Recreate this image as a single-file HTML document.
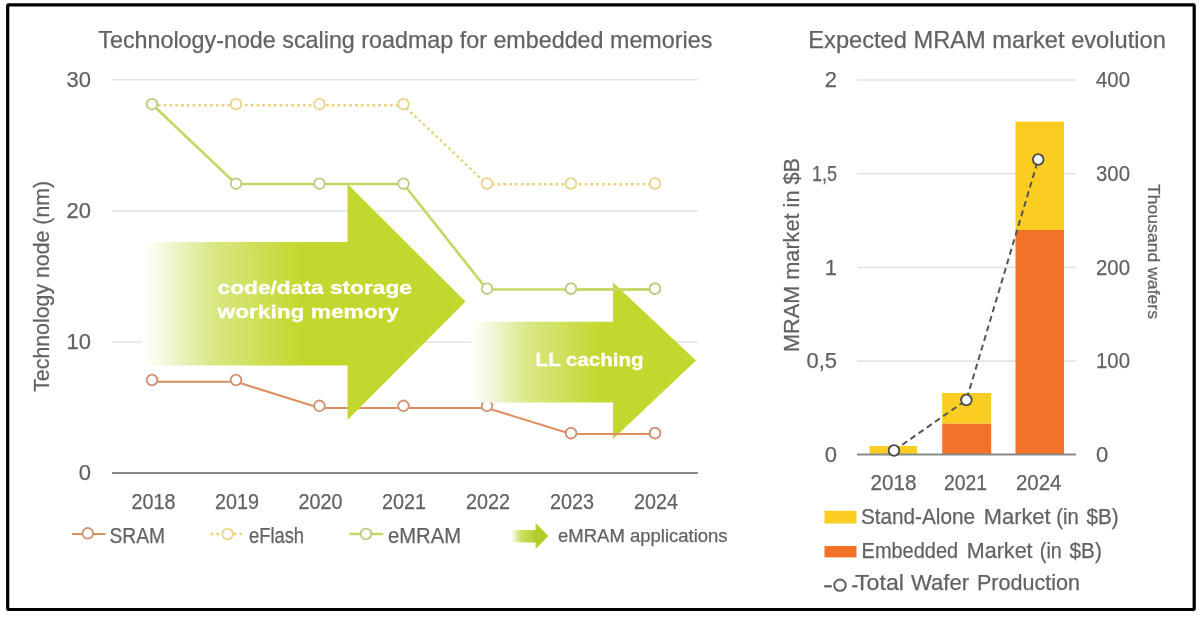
<!DOCTYPE html>
<html><head><meta charset="utf-8">
<style>
html,body{margin:0;padding:0;background:#fff;width:1199px;height:617px;overflow:hidden}
svg{display:block;will-change:transform}
text{font-family:"Liberation Sans",sans-serif;fill:#626262;stroke:#626262;stroke-width:0.25px}
</style></head>
<body>
<svg width="1199" height="617" viewBox="0 0 1199 617">
<defs>
<linearGradient id="g1" gradientUnits="userSpaceOnUse" x1="142" y1="0" x2="300" y2="0">
<stop offset="0" stop-color="#ffffff"/>
<stop offset="0.12" stop-color="#f6f9e4"/>
<stop offset="0.45" stop-color="#dae784"/>
<stop offset="1" stop-color="#c3d82e"/>
</linearGradient>
<linearGradient id="g2" gradientUnits="userSpaceOnUse" x1="471" y1="0" x2="600" y2="0">
<stop offset="0" stop-color="#ffffff"/>
<stop offset="0.12" stop-color="#f6f9e4"/>
<stop offset="0.45" stop-color="#dae784"/>
<stop offset="1" stop-color="#c3d82e"/>
</linearGradient>
<linearGradient id="g3" gradientUnits="userSpaceOnUse" x1="511" y1="0" x2="536" y2="0">
<stop offset="0" stop-color="#bcd42e" stop-opacity="0"/>
<stop offset="0.4" stop-color="#bcd42e" stop-opacity="0.75"/>
<stop offset="1" stop-color="#b4cc2c" stop-opacity="1"/>
</linearGradient>
</defs>

<!-- border -->
<rect x="7.7" y="4.9" width="1186.5" height="604.6" rx="0.8" fill="none" stroke="#000" stroke-width="3.2"/>

<!-- LEFT CHART -->
<text x="98.3" y="47.6" font-size="24" textLength="614" lengthAdjust="spacingAndGlyphs">Technology-node scaling roadmap for embedded memories</text>

<!-- gridlines -->
<g stroke="#e3e3e3" stroke-width="1.6">
<line x1="112" y1="79.8" x2="698" y2="79.8"/>
<line x1="112" y1="211" x2="698" y2="211"/>
<line x1="112" y1="342" x2="698" y2="342"/>
</g>

<line x1="112" y1="473" x2="698" y2="473" stroke="#8a8a8a" stroke-width="2"/>

<!-- y tick labels -->
<g font-size="22" text-anchor="end">
<text x="91" y="86.7">30</text>
<text x="91" y="218">20</text>
<text x="91" y="349">10</text>
<text x="91" y="480">0</text>
</g>
<text transform="translate(49.2,391.8) rotate(-90)" font-size="22" textLength="211" lengthAdjust="spacingAndGlyphs">Technology node (nm)</text>

<!-- x labels -->
<g font-size="22" text-anchor="middle">
<text x="153.6" y="509" textLength="44" lengthAdjust="spacingAndGlyphs">2018</text>
<text x="237" y="509" textLength="44" lengthAdjust="spacingAndGlyphs">2019</text>
<text x="320.5" y="509" textLength="44" lengthAdjust="spacingAndGlyphs">2020</text>
<text x="404" y="509" textLength="44" lengthAdjust="spacingAndGlyphs">2021</text>
<text x="488" y="509" textLength="44" lengthAdjust="spacingAndGlyphs">2022</text>
<text x="572" y="509" textLength="44" lengthAdjust="spacingAndGlyphs">2023</text>
<text x="656" y="509" textLength="44" lengthAdjust="spacingAndGlyphs">2024</text>
</g>

<!-- series lines -->
<polyline points="152,105.3 236,105.3 319.5,105.3 403.5,105.3 487,184.3 571,184.3 655,184.3" fill="none" stroke="#ebd27e" stroke-width="2.4" stroke-dasharray="2.8,3"/>
<polyline points="152,104.2 236,184 319.5,184 403.5,184 487,289.5 571,289.5 655,289.5" fill="none" stroke="#c5d765" stroke-width="2.7"/>
<polyline points="152,381.8 236,381.8 319.5,408 403.5,408 487,408 571,434 655,434" fill="none" stroke="#dd8f5e" stroke-width="2.1"/>

<!-- markers -->
<g fill="#fff" stroke="#ead487" stroke-width="1.8">
<circle cx="236" cy="104.2" r="5.3"/><circle cx="319.5" cy="104.2" r="5.3"/><circle cx="403.5" cy="104.2" r="5.3"/>
<circle cx="487" cy="183.5" r="5.3"/><circle cx="571" cy="183.5" r="5.3"/><circle cx="655" cy="183.5" r="5.3"/>
</g>
<g fill="#fff" stroke="#bccb7c" stroke-width="1.8">
<circle cx="152" cy="104.2" r="5.3"/><circle cx="236" cy="183.7" r="5.3"/><circle cx="319.5" cy="183.7" r="5.3"/><circle cx="403.5" cy="183.7" r="5.3"/>
<circle cx="487" cy="288.7" r="5.3"/><circle cx="571" cy="288.7" r="5.3"/><circle cx="655" cy="288.7" r="5.3"/>
</g>
<g fill="#fff" stroke="#d09270" stroke-width="1.8">
<circle cx="152" cy="380" r="5.3"/><circle cx="236" cy="380" r="5.3"/><circle cx="319.5" cy="405.8" r="5.3"/><circle cx="403.5" cy="405.8" r="5.3"/>
<circle cx="487" cy="405.8" r="5.3"/><circle cx="571" cy="433.2" r="5.3"/><circle cx="655" cy="433.2" r="5.3"/>
</g>

<!-- arrows -->
<path d="M142,242 L347.5,242 L347.5,184 L465.5,301.5 L347.5,420 L347.5,365.5 L142,365.5 Z" fill="url(#g1)"/>
<path d="M471,321.8 L613,321.8 L613,282.5 L696,360.5 L613,439 L613,402.5 L471,402.5 Z" fill="url(#g2)"/>
<!-- lines over arrow 2 -->
<line x1="571" y1="289.5" x2="655" y2="289.5" stroke="#c5d765" stroke-width="2.7"/>
<circle cx="571" cy="288.7" r="5.3" fill="#fff" stroke="#bccb7c" stroke-width="1.8"/>
<circle cx="655" cy="288.7" r="5.3" fill="#fff" stroke="#bccb7c" stroke-width="1.8"/>
<line x1="571" y1="434" x2="655" y2="434" stroke="#dd8f5e" stroke-width="2.1"/>
<circle cx="571" cy="433.2" r="5.3" fill="#fff" stroke="#d09270" stroke-width="1.8"/>
<circle cx="655" cy="433.2" r="5.3" fill="#fff" stroke="#d09270" stroke-width="1.8"/>

<!-- arrow texts -->
<g font-size="19" font-weight="bold">
<text x="217.5" y="293.6" textLength="194.5" lengthAdjust="spacingAndGlyphs" style="fill:#fff;stroke:#fff;stroke-width:0.3px">code/data storage</text>
<text x="217.5" y="317.5" textLength="181.5" lengthAdjust="spacingAndGlyphs" style="fill:#fff;stroke:#fff;stroke-width:0.3px">working memory</text>
<text x="535.6" y="365.6" textLength="108" lengthAdjust="spacingAndGlyphs" style="fill:#fff;stroke:#fff;stroke-width:0.3px">LL caching</text>
</g>

<!-- legend left -->
<line x1="72" y1="534" x2="105.5" y2="534" stroke="#dd8f5e" stroke-width="2.2"/>
<circle cx="87.8" cy="533.3" r="5.3" fill="#fff" stroke="#d09270" stroke-width="1.8"/>
<text x="109.5" y="542.5" font-size="22" textLength="55.5" lengthAdjust="spacingAndGlyphs">SRAM</text>
<line x1="210.5" y1="534" x2="242" y2="534" stroke="#ebd27e" stroke-width="2.4" stroke-dasharray="2.8,3"/>
<circle cx="227.6" cy="534" r="5.3" fill="#fff" stroke="#ead487" stroke-width="1.8"/>
<text x="249" y="542.5" font-size="22" textLength="55" lengthAdjust="spacingAndGlyphs">eFlash</text>
<line x1="349.5" y1="534" x2="383.3" y2="534" stroke="#c5d765" stroke-width="2.6"/>
<circle cx="366" cy="534" r="5.3" fill="#fff" stroke="#bccb7c" stroke-width="1.8"/>
<text x="388" y="542.5" font-size="22" textLength="73" lengthAdjust="spacingAndGlyphs">eMRAM</text>
<path d="M512,530 L535.6,530 L535.6,523 L548.4,536 L535.6,549 L535.6,542.4 L512,542.4 Z" fill="url(#g3)"/>
<text x="558" y="542.4" font-size="17.5" textLength="169.6" lengthAdjust="spacingAndGlyphs">eMRAM applications</text>

<!-- RIGHT CHART -->
<text x="808.3" y="47.5" font-size="24" textLength="357.5" lengthAdjust="spacingAndGlyphs">Expected MRAM market evolution</text>
<g stroke="#e3e3e3" stroke-width="1.6">
<line x1="857" y1="80" x2="1076" y2="80"/>
<line x1="857" y1="173.7" x2="1076" y2="173.7"/>
<line x1="857" y1="267.4" x2="1076" y2="267.4"/>
<line x1="857" y1="361.1" x2="1076" y2="361.1"/>
</g>
<!-- bars -->
<rect x="869.5" y="446" width="47.5" height="8.6" fill="#fbcd23"/>
<rect x="942.2" y="393" width="49" height="30.7" fill="#fbcd23"/>
<rect x="942.2" y="423.7" width="49" height="30.9" fill="#f37229"/>
<rect x="1015.5" y="121.6" width="48.5" height="108.4" fill="#fbcd23"/>
<rect x="1015.5" y="230" width="48.5" height="224.6" fill="#f37229"/>
<line x1="857" y1="454.6" x2="1076" y2="454.6" stroke="#8a8a8a" stroke-width="2"/>
<!-- wafer line -->
<polyline points="894,450.5 966.4,400 1038.2,159.5" fill="none" stroke="#555" stroke-width="2" stroke-dasharray="6,4"/>
<g fill="#fff" stroke="#4a4a4a" stroke-width="1.8">
<circle cx="894" cy="450.5" r="5.3"/><circle cx="966.4" cy="400" r="5.3"/><circle cx="1038.2" cy="159.5" r="5.3"/>
</g>
<!-- left ticks -->
<g font-size="22" text-anchor="end">
<text x="837" y="87.3">2</text>
<text x="837" y="181" textLength="25" lengthAdjust="spacingAndGlyphs">1,5</text>
<text x="837" y="274.7">1</text>
<text x="837" y="368.4">0,5</text>
<text x="837" y="462">0</text>
</g>
<g font-size="22" text-anchor="start">
<text x="1096" y="87.3" textLength="34" lengthAdjust="spacingAndGlyphs">400</text>
<text x="1096" y="181" textLength="34" lengthAdjust="spacingAndGlyphs">300</text>
<text x="1096" y="274.7" textLength="34" lengthAdjust="spacingAndGlyphs">200</text>
<text x="1096" y="368.4" textLength="34" lengthAdjust="spacingAndGlyphs">100</text>
<text x="1096" y="462">0</text>
</g>
<text transform="translate(799.2,352) rotate(-90)" font-size="22" textLength="194" lengthAdjust="spacingAndGlyphs">MRAM market in $B</text>
<text transform="translate(1147.5,184) rotate(90)" font-size="17" textLength="135" lengthAdjust="spacingAndGlyphs">Thousand wafers</text>
<g font-size="22" text-anchor="middle">
<text x="893.6" y="490" textLength="46" lengthAdjust="spacingAndGlyphs">2018</text>
<text x="965.5" y="490" textLength="43" lengthAdjust="spacingAndGlyphs">2021</text>
<text x="1038.7" y="490" textLength="45.5" lengthAdjust="spacingAndGlyphs">2024</text>
</g>
<!-- right legend -->
<rect x="824.5" y="510.7" width="32" height="12.8" fill="#fbcd23"/>
<rect x="824.5" y="546" width="32" height="11.4" fill="#f37229"/>
<g font-size="22">
<text x="861" y="523.8" textLength="114" lengthAdjust="spacingAndGlyphs">Stand-Alone</text>
<text x="983.8" y="523.8" textLength="66.8" lengthAdjust="spacingAndGlyphs">Market</text>
<text x="1056.2" y="523.8" textLength="22.5" lengthAdjust="spacingAndGlyphs">(in</text>
<text x="1086.4" y="523.8" textLength="32.2" lengthAdjust="spacingAndGlyphs">$B)</text>
<text x="861.6" y="558.4" textLength="96.5" lengthAdjust="spacingAndGlyphs">Embedded</text>
<text x="966.8" y="558.4" textLength="65.8" lengthAdjust="spacingAndGlyphs">Market</text>
<text x="1039.8" y="558.4" textLength="22" lengthAdjust="spacingAndGlyphs">(in</text>
<text x="1069.6" y="558.4" textLength="32.2" lengthAdjust="spacingAndGlyphs">$B)</text>
<text x="855" y="590.2" textLength="49" lengthAdjust="spacingAndGlyphs">Total</text>
<text x="911" y="590.2" textLength="58" lengthAdjust="spacingAndGlyphs">Wafer</text>
<text x="977" y="590.2" textLength="103" lengthAdjust="spacingAndGlyphs">Production</text>
</g>
<line x1="824.2" y1="586.3" x2="831.7" y2="586.3" stroke="#5c5c5c" stroke-width="2.2"/>
<circle cx="840" cy="585.2" r="5.7" fill="none" stroke="#5c5c5c" stroke-width="1.9"/>
<line x1="852.2" y1="586.3" x2="857.5" y2="586.3" stroke="#5c5c5c" stroke-width="2.2"/>
</svg>
</body></html>
